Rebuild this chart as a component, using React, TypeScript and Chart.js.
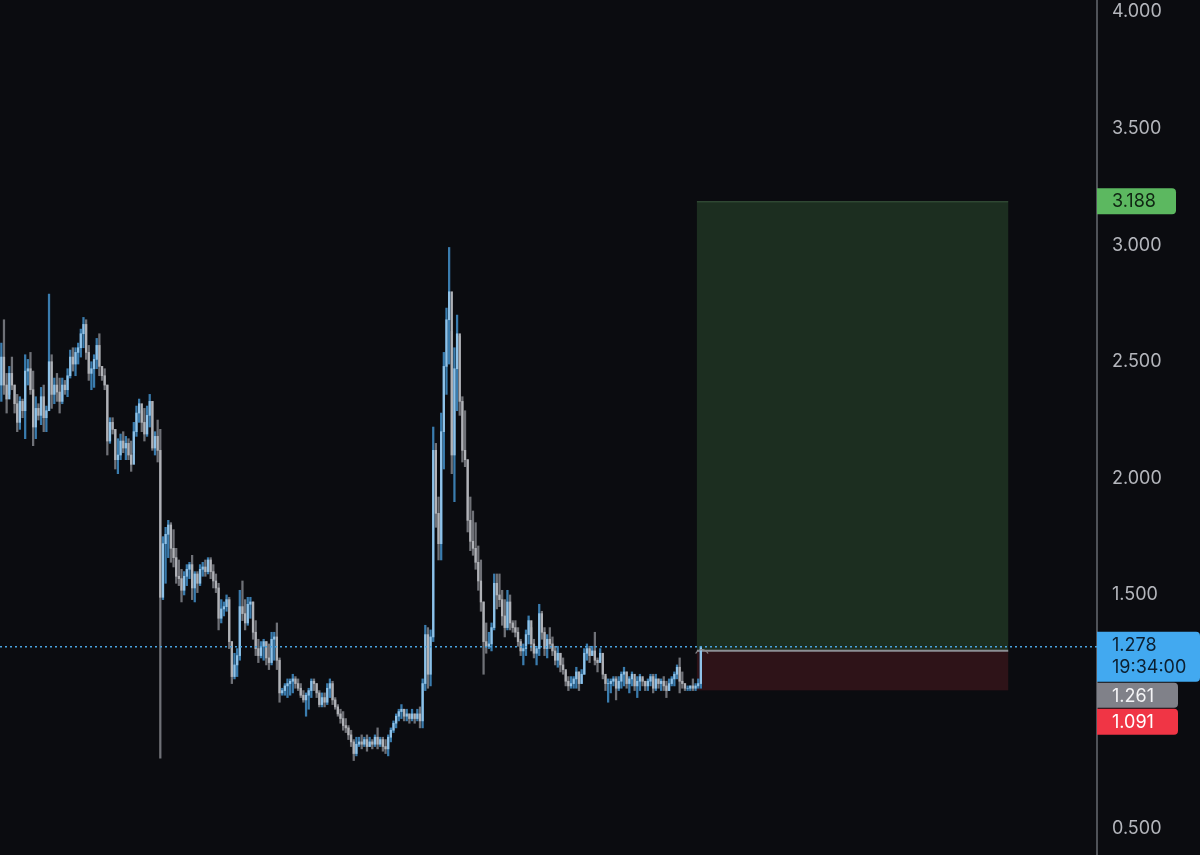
import React, { useEffect, useRef } from 'react';
import { Chart, registerables } from 'chart.js';

Chart.register(...registerables);

// ---- data ----
const FIRST_OPEN = 2.4;
const HIGHS = [
  2.58, 2.68, 2.45, 2.48, 2.52, 2.40, 2.36, 2.35, 2.34, 2.53, 2.51, 2.54, 2.46, 2.35, 2.32, 2.39, 2.40, 2.31, 2.79, 2.53,
  2.43, 2.45, 2.43, 2.43, 2.42, 2.47, 2.55, 2.56, 2.56, 2.58, 2.64, 2.69, 2.68, 2.57, 2.50, 2.53, 2.60, 2.62, 2.48, 2.47,
  2.40, 2.26, 2.26, 2.21, 2.17, 2.19, 2.20, 2.18, 2.17, 2.16, 2.24, 2.31, 2.34, 2.29, 2.30, 2.31, 2.36, 2.33, 2.20, 2.25,
  2.21, 1.75, 1.79, 1.82, 1.81, 1.78, 1.70, 1.65, 1.61, 1.60, 1.63, 1.64, 1.67, 1.60, 1.60, 1.63, 1.64, 1.65, 1.66, 1.66,
  1.63, 1.59, 1.55, 1.48, 1.47, 1.50, 1.49, 1.30, 1.25, 1.27, 1.52, 1.56, 1.48, 1.49, 1.49, 1.47, 1.39, 1.31, 1.30, 1.31,
  1.30, 1.29, 1.34, 1.34, 1.38, 1.23, 1.10, 1.12, 1.14, 1.14, 1.16, 1.15, 1.14, 1.12, 1.09, 1.08, 1.10, 1.14, 1.14, 1.12,
  1.09, 1.08, 1.08, 1.12, 1.14, 1.13, 1.06, 1.03, 1.01, 1.00, 0.97, 0.94, 0.92, 0.88, 0.89, 0.89, 0.90, 0.89, 0.90, 0.89,
  0.88, 0.90, 0.93, 0.89, 0.89, 0.88, 0.90, 0.93, 0.96, 0.99, 1.01, 1.03, 1.01, 1.01, 0.99, 1.01, 0.99, 1.01, 1.02, 1.14,
  1.37, 1.36, 1.35, 2.22, 2.15, 1.92, 2.28, 2.54, 2.73, 2.99, 2.63, 2.56, 2.70, 2.61, 2.35, 2.29, 2.08, 1.92, 1.86, 1.81,
  1.71, 1.65, 1.47, 1.38, 1.34, 1.38, 1.59, 1.59, 1.59, 1.52, 1.48, 1.52, 1.50, 1.39, 1.39, 1.36, 1.31, 1.29, 1.35, 1.41,
  1.36, 1.31, 1.28, 1.46, 1.43, 1.36, 1.33, 1.36, 1.32, 1.28, 1.28, 1.25, 1.23, 1.17, 1.15, 1.15, 1.15, 1.19, 1.17, 1.18,
  1.27, 1.29, 1.28, 1.28, 1.34, 1.23, 1.27, 1.21, 1.15, 1.14, 1.14, 1.15, 1.15, 1.15, 1.17, 1.19, 1.17, 1.15, 1.17, 1.14,
  1.15, 1.16, 1.14, 1.13, 1.14, 1.16, 1.16, 1.16, 1.14, 1.14, 1.15, 1.13, 1.14, 1.15, 1.17, 1.20, 1.23, 1.17, 1.12, 1.11,
  1.11, 1.14, 1.12, 1.14, 1.28,
];
const LOWS = [
  2.33, 2.36, 2.28, 2.36, 2.38, 2.28, 2.20, 2.21, 2.26, 2.17, 2.40, 2.36, 2.14, 2.17, 2.25, 2.23, 2.20, 2.20, 2.29, 2.30,
  2.32, 2.33, 2.28, 2.32, 2.36, 2.35, 2.43, 2.46, 2.44, 2.49, 2.52, 2.56, 2.51, 2.42, 2.38, 2.39, 2.47, 2.44, 2.42, 2.38,
  2.10, 2.15, 2.19, 2.04, 2.02, 2.08, 2.11, 2.08, 2.08, 2.03, 2.11, 2.18, 2.24, 2.20, 2.16, 2.18, 2.22, 2.12, 2.10, 2.07,
  0.80, 1.48, 1.55, 1.66, 1.64, 1.62, 1.55, 1.54, 1.47, 1.50, 1.54, 1.57, 1.48, 1.47, 1.51, 1.54, 1.58, 1.58, 1.59, 1.57,
  1.53, 1.51, 1.35, 1.38, 1.41, 1.43, 1.27, 1.12, 1.14, 1.15, 1.22, 1.39, 1.35, 1.37, 1.40, 1.31, 1.24, 1.21, 1.23, 1.22,
  1.20, 1.18, 1.20, 1.22, 1.18, 1.04, 1.07, 1.07, 1.06, 1.07, 1.08, 1.10, 1.09, 1.06, 1.04, 0.98, 1.01, 1.06, 1.09, 1.06,
  1.02, 1.02, 1.02, 1.03, 1.06, 1.03, 1.01, 0.98, 0.95, 0.92, 0.91, 0.88, 0.85, 0.79, 0.81, 0.85, 0.84, 0.85, 0.83, 0.85,
  0.84, 0.85, 0.84, 0.85, 0.83, 0.82, 0.81, 0.87, 0.91, 0.93, 0.96, 0.97, 0.96, 0.96, 0.95, 0.96, 0.95, 0.96, 0.93, 0.93,
  1.09, 1.10, 1.11, 1.30, 1.79, 1.65, 1.65, 2.04, 2.36, 2.49, 2.02, 1.90, 2.29, 2.27, 2.07, 2.05, 1.77, 1.69, 1.67, 1.61,
  1.52, 1.43, 1.16, 1.25, 1.27, 1.26, 1.35, 1.44, 1.45, 1.37, 1.32, 1.35, 1.35, 1.34, 1.32, 1.28, 1.24, 1.20, 1.24, 1.29,
  1.26, 1.23, 1.20, 1.24, 1.31, 1.24, 1.23, 1.27, 1.24, 1.20, 1.19, 1.17, 1.16, 1.11, 1.09, 1.10, 1.10, 1.10, 1.09, 1.12,
  1.16, 1.22, 1.21, 1.24, 1.20, 1.17, 1.22, 1.14, 1.09, 1.04, 1.08, 1.11, 1.05, 1.09, 1.10, 1.11, 1.10, 1.08, 1.11, 1.09,
  1.06, 1.09, 1.11, 1.09, 1.09, 1.11, 1.08, 1.09, 1.10, 1.09, 1.09, 1.06, 1.09, 1.11, 1.11, 1.14, 1.08, 1.10, 1.09, 1.09,
  1.09, 1.09, 1.09, 1.10, 1.10,
];
const CLOSES = [
  2.52, 2.40, 2.34, 2.45, 2.40, 2.32, 2.24, 2.33, 2.29, 2.46, 2.47, 2.38, 2.22, 2.30, 2.27, 2.35, 2.26, 2.29, 2.50, 2.36,
  2.40, 2.37, 2.33, 2.40, 2.38, 2.44, 2.52, 2.49, 2.54, 2.56, 2.62, 2.66, 2.54, 2.45, 2.47, 2.51, 2.57, 2.48, 2.44, 2.40,
  2.16, 2.24, 2.21, 2.08, 2.10, 2.16, 2.13, 2.15, 2.10, 2.06, 2.20, 2.28, 2.32, 2.24, 2.19, 2.27, 2.33, 2.13, 2.18, 2.12,
  1.49, 1.72, 1.76, 1.80, 1.70, 1.66, 1.58, 1.57, 1.52, 1.58, 1.61, 1.63, 1.53, 1.59, 1.55, 1.61, 1.62, 1.60, 1.65, 1.60,
  1.56, 1.53, 1.40, 1.44, 1.45, 1.48, 1.30, 1.15, 1.20, 1.24, 1.45, 1.42, 1.38, 1.46, 1.47, 1.34, 1.27, 1.24, 1.28, 1.30,
  1.23, 1.21, 1.31, 1.32, 1.22, 1.08, 1.09, 1.11, 1.12, 1.13, 1.14, 1.12, 1.10, 1.07, 1.05, 1.07, 1.09, 1.13, 1.12, 1.08,
  1.03, 1.06, 1.04, 1.10, 1.12, 1.05, 1.02, 0.99, 0.97, 0.94, 0.93, 0.90, 0.87, 0.82, 0.86, 0.87, 0.86, 0.88, 0.85, 0.87,
  0.86, 0.89, 0.86, 0.88, 0.85, 0.84, 0.89, 0.92, 0.95, 0.98, 1.00, 1.01, 0.98, 0.99, 0.97, 0.99, 0.97, 0.99, 0.96, 1.12,
  1.33, 1.16, 1.32, 2.12, 1.85, 1.72, 2.20, 2.48, 2.68, 2.80, 2.10, 2.47, 2.62, 2.33, 2.12, 2.08, 1.82, 1.73, 1.70, 1.64,
  1.56, 1.47, 1.30, 1.28, 1.29, 1.36, 1.55, 1.50, 1.48, 1.41, 1.36, 1.47, 1.38, 1.36, 1.34, 1.30, 1.26, 1.27, 1.33, 1.39,
  1.29, 1.25, 1.27, 1.42, 1.34, 1.27, 1.31, 1.29, 1.26, 1.22, 1.25, 1.20, 1.18, 1.13, 1.11, 1.12, 1.14, 1.17, 1.12, 1.16,
  1.25, 1.27, 1.24, 1.26, 1.22, 1.21, 1.25, 1.16, 1.12, 1.12, 1.13, 1.14, 1.10, 1.13, 1.16, 1.17, 1.12, 1.14, 1.16, 1.11,
  1.13, 1.15, 1.13, 1.11, 1.13, 1.15, 1.10, 1.14, 1.12, 1.13, 1.11, 1.09, 1.12, 1.14, 1.16, 1.19, 1.13, 1.12, 1.10, 1.10,
  1.11, 1.10, 1.11, 1.12, 1.278,
];
const TOTAL_SLOTS = 414; // candle slots incl. empty space to the right
const Y_TICKS = [0.5, 1.0, 1.5, 2.0, 2.5, 3.0, 3.5, 4.0];
const Y_MIN = 0.385;
const Y_MAX = 4.051;

const CURRENT_PRICE = 1.278;
const COUNTDOWN = '19:34:00';
const ENTRY = 1.261;
const TARGET = 3.188;
const STOP = 1.091;
const BOX_START = 262.5;
const BOX_END = 380;

// ---- styles ----
const BG = '#0b0c10';
const UP_WICK = '#3a7cae';
const UP_BODY = '#8fc2e8';
const DOWN_WICK = '#6f7177';
const DOWN_BODY = '#b0b2b7';
const FONT = 'Inter, "DejaVu Sans", sans-serif';

function roundRightRect(ctx: CanvasRenderingContext2D, x: number, y: number, w: number, h: number, r: number) {
  ctx.beginPath();
  ctx.moveTo(x, y);
  ctx.lineTo(x + w - r, y);
  ctx.quadraticCurveTo(x + w, y, x + w, y + r);
  ctx.lineTo(x + w, y + h - r);
  ctx.quadraticCurveTo(x + w, y + h, x + w - r, y + h);
  ctx.lineTo(x, y + h);
  ctx.closePath();
}

const positionTool = {
  id: 'positionTool',
  beforeDatasetsDraw(chart: any) {
    const { ctx, scales } = chart;
    const x = scales.x, y = scales.y;
    const x0 = x.getPixelForValue(BOX_START);
    const x1 = x.getPixelForValue(BOX_END);
    const yT = y.getPixelForValue(TARGET);
    const yE = y.getPixelForValue(ENTRY);
    const yS = y.getPixelForValue(STOP);
    ctx.save();
    ctx.fillStyle = '#1c2e20';
    ctx.fillRect(x0, yT, x1 - x0, yE - yT);
    ctx.fillStyle = '#2e1318';
    ctx.fillRect(x0, yE, x1 - x0, yS - yE);
    ctx.strokeStyle = 'rgba(80,120,85,0.6)';
    ctx.lineWidth = 1;
    ctx.beginPath();
    ctx.moveTo(x0, yT + 0.5);
    ctx.lineTo(x1, yT + 0.5);
    ctx.stroke();
    ctx.strokeStyle = '#8c8f94';
    ctx.lineWidth = 2;
    ctx.beginPath();
    ctx.moveTo(x0, yE);
    ctx.lineTo(x1, yE);
    ctx.stroke();
    ctx.restore();
  },
  afterDatasetsDraw(chart: any) {
    const { ctx, scales, chartArea } = chart;
    const y = scales.y, x = scales.x;
    const yc = y.getPixelForValue(CURRENT_PRICE);
    ctx.save();
    ctx.strokeStyle = '#4aa3df';
    ctx.lineWidth = 1.5;
    ctx.setLineDash([2, 3]);
    ctx.beginPath();
    ctx.moveTo(chartArea.left, yc);
    ctx.lineTo(chartArea.right, yc);
    ctx.stroke();
    ctx.setLineDash([]);
    // small handle of the position tool
    const xl = x.getPixelForValue(CLOSES.length - 1) + 1;
    const ye = y.getPixelForValue(ENTRY);
    ctx.strokeStyle = '#8a8b90';
    ctx.lineWidth = 1.2;
    ctx.beginPath();
    ctx.arc(xl, ye + 6, 7, Math.PI * 1.15, Math.PI * 1.85);
    ctx.stroke();
    ctx.restore();
  },
  afterDraw(chart: any) {
    const { ctx, scales, chartArea } = chart;
    const y = scales.y;
    const left = chartArea.right;
    const textX = left + 15;
    ctx.save();
    ctx.font = `18px ${FONT}`;
    ctx.textBaseline = 'middle';
    ctx.textAlign = 'left';
    const tag = (top: number, w: number, h: number, color: string, textColor: string, lines: string[], lineGap: number) => {
      ctx.fillStyle = color;
      roundRightRect(ctx, left, top, w, h, 4);
      ctx.fill();
      ctx.fillStyle = textColor;
      lines.forEach((t, i) => {
        ctx.fillText(t, textX, top + 13.5 + i * lineGap);
      });
    };
    const yT = y.getPixelForValue(TARGET);
    tag(yT - 13, 79, 26, '#5cb860', '#0f2412', [TARGET.toFixed(3)], 0);
    const yC = y.getPixelForValue(CURRENT_PRICE);
    const cTop = yC - 15;
    tag(cTop, 103, 50, '#42a9f0', '#0c1f30', [CURRENT_PRICE.toFixed(3), COUNTDOWN], 22);
    const eTop = Math.max(y.getPixelForValue(ENTRY) - 13, cTop + 51);
    tag(eTop, 81, 25, '#808189', '#f4f4f6', [ENTRY.toFixed(3)], 0);
    const sTop = Math.max(y.getPixelForValue(STOP) - 13, eTop + 26);
    tag(sTop, 81, 26, '#f03545', '#ffffff', [STOP.toFixed(3)], 0);
    ctx.restore();
  },
};

export default function App() {
  const canvasRef = useRef<HTMLCanvasElement | null>(null);

  useEffect(() => {
    document.body.style.margin = '0';
    document.body.style.background = BG;
    const canvas = canvasRef.current;
    if (!canvas) return;

    const opens = CLOSES.map((c, i) => (i === 0 ? FIRST_OPEN : CLOSES[i - 1]));
    const up = CLOSES.map((c, i) => c >= opens[i]);
    const labels = Array.from({ length: TOTAL_SLOTS }, (_, i) => String(i + 1));
    const wicks = LOWS.map((l, i) => [l, HIGHS[i]]);
    const bodies = CLOSES.map((c, i) => [Math.min(c, opens[i]), Math.max(c, opens[i])]);

    const chart = new Chart(canvas, {
      type: 'bar',
      data: {
        labels,
        datasets: [
          {
            label: 'body',
            data: bodies as any,
            backgroundColor: up.map((u) => (u ? UP_BODY : DOWN_BODY)),
            borderWidth: 0,
            barThickness: 1.6,
            grouped: false,
            order: 1,
          } as any,
          {
            label: 'wick',
            data: wicks as any,
            backgroundColor: up.map((u) => (u ? UP_WICK : DOWN_WICK)),
            borderWidth: 0,
            barThickness: 1.6,
            grouped: false,
            order: 2,
          } as any,
        ],
      },
      options: {
        animation: false,
        responsive: true,
        maintainAspectRatio: false,
        events: [],
        layout: { padding: 0 },
        plugins: { legend: { display: false }, tooltip: { enabled: false } },
        scales: {
          x: {
            display: false,
            offset: true,
            grid: { display: false },
          },
          y: {
            position: 'right',
            min: Y_MIN,
            max: Y_MAX,
            afterBuildTicks: (s: any) => {
              s.ticks = Y_TICKS.map((v) => ({ value: v }));
            },
            afterFit: (s: any) => {
              s.width = 103;
              s.paddingTop = 0;
              s.paddingBottom = 0;
            },
            grid: { display: false, drawTicks: false },
            border: { display: true, color: '#4f5258', width: 2 },
            ticks: {
              color: '#b4b6bc',
              padding: 15,
              font: { family: FONT, size: 18 },
              callback: (v: any) => {
                const n = Number(v);
                if (Math.abs(n - STOP) < 0.15 || Math.abs(n - ENTRY) < 0.15) return '';
                return n.toFixed(3);
              },
            },
          },
        },
      } as any,
      plugins: [positionTool],
    });
    return () => chart.destroy();
  }, []);

  return (
    <div style={{ width: 1200, height: 855, position: 'relative', background: BG }}>
      <canvas ref={canvasRef} />
    </div>
  );
}
